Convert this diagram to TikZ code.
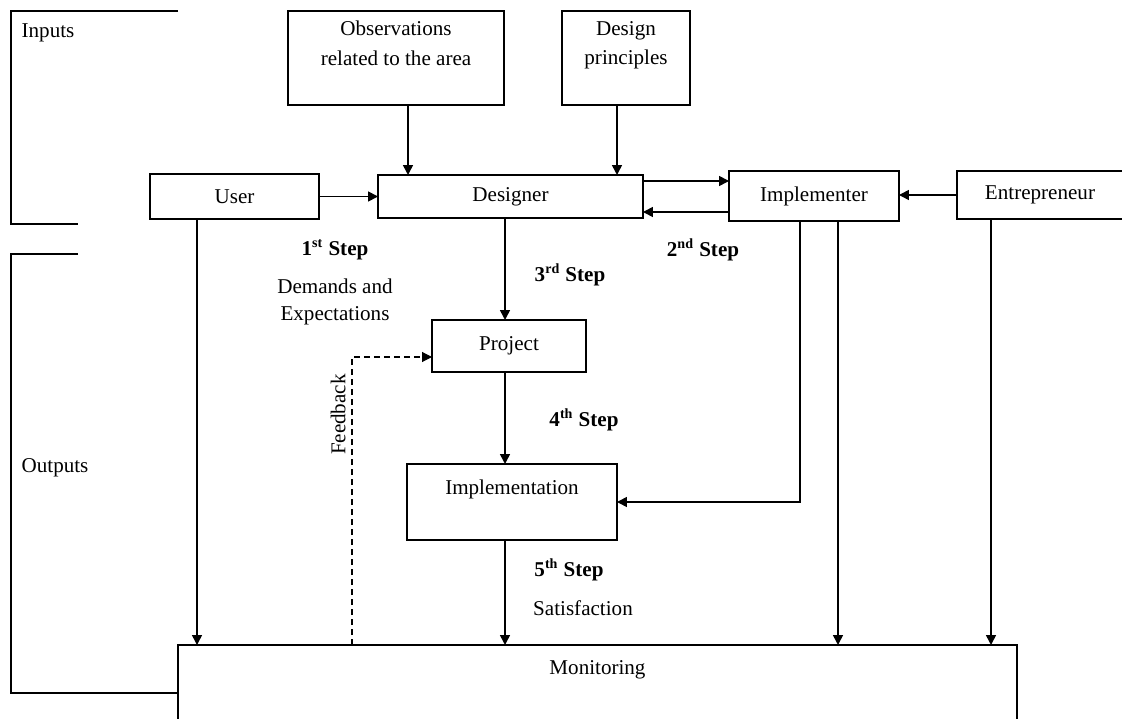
\documentclass[tikz,border=0pt]{standalone}
\usepackage{fontspec}
\setmainfont{Liberation Serif}
\usetikzlibrary{arrows.meta}

\begin{document}
\begin{tikzpicture}[x=0.02cm,y=-0.02cm,
  >={Triangle[length=2mm,width=2mm]},line width=0.9pt,
  every node/.style={font=\fontsize{12}{17}\selectfont},
  block/.style={draw,inner sep=0pt,outer sep=0pt,align=center},
  steplabel/.style={font=\fontsize{12}{17}\selectfont\bfseries},
  feedback line/.style={line width=0.6pt,dash pattern=on 1.2mm off 0.8mm}]

  \useasboundingbox (0,0) rectangle (1122,719);
  \clip (0,0) rectangle (1122,719);

  % boxes
  \node[block,minimum width=4.32cm,minimum height=1.88cm] (obs) at (396,58)
    {Observations\\related to the area\\~};
  \node[block,minimum width=2.56cm,minimum height=1.88cm] (dp) at (626,58)
    {Design\\principles\\~};
  \node[block,minimum width=3.38cm,minimum height=0.9cm] (user) at (234.5,196.5) {User};
  \node[block,minimum width=5.3cm,minimum height=0.86cm] (designer) at (510.5,196.5) {Designer};
  \node[block,minimum width=3.4cm,minimum height=1cm] (impl) at (814,196) {Implementer};
  \node[block,minimum width=3.32cm,minimum height=0.96cm] (entre) at (1040,195) {Entrepreneur};
  \node[block,minimum width=3.08cm,minimum height=1.04cm] (project) at (509,346) {Project};
  \node[block,minimum width=4.2cm,minimum height=1.52cm] (implementation) at (512,502)
    {Implementation\\~};
  \node[draw,anchor=north,outer sep=0pt,minimum width=16.78cm,text height=8pt,
    text depth=3cm,inner ysep=9pt] (mon) at (597.5,645) {Monitoring};

  % brackets
  \draw (178,11) -- (11,11) -- (11,224) -- (78,224);
  \draw (78,254) -- (11,254) -- (11,693) -- (mon.west |- 11,693);
  \node[anchor=west] (inputs) at (15,33) {Inputs};
  \node[anchor=west] (outputs) at (15,468) {Outputs};

  % arrows
  \draw[->] (obs.south -| 408,0) -- (designer.north -| 408,0);
  \draw[->] (dp.south -| 617,0) -- (designer.north -| 617,0);
  \draw[->] (user) -- (designer);
  \draw[->] (designer.east |- 0,181) -- (impl.west |- 0,181);
  \draw[->] (impl.west |- 0,212) -- (designer.east |- 0,212);
  \draw[->] (entre.west) -- (impl.east |- entre.west);
  \draw[->] (user.south -| 197,0) -- (mon.north -| 197,0);
  \draw[->] (designer.south -| 505,0) -- (project.north -| 505,0);
  \draw[->] (project.south -| 505,0) -- (implementation.north -| 505,0);
  \draw[->] (implementation.south -| 505,0) -- (mon.north -| 505,0);
  \draw[->] (impl.south -| 800,0) |- (implementation.east);
  \draw[->] (impl.south -| 838,0) -- (mon.north -| 838,0);
  \draw[->] (entre.south -| 991,0) -- (mon.north -| 991,0);
  \draw[->,feedback line] (mon.north -| 352,0) |- node[pos=0.4,above,sloped] {Feedback}
    (project.west |- 0,357);

  % step labels
  \node[steplabel] (s1) at (335,250) {1\textsuperscript{st} Step};
  \node[align=center] (demands) at (335,302) {Demands and\\[-2pt]Expectations};
  \node[steplabel] (s2) at (703,250) {2\textsuperscript{nd} Step};
  \node[steplabel] (s3) at (570,275) {3\textsuperscript{rd} Step};
  \node[steplabel] (s4) at (584,420) {4\textsuperscript{th} Step};
  \node[steplabel] (s5) at (569,570) {5\textsuperscript{th} Step};
  \node (satisfaction) at (583,608) {Satisfaction};
\end{tikzpicture}
\end{document}
